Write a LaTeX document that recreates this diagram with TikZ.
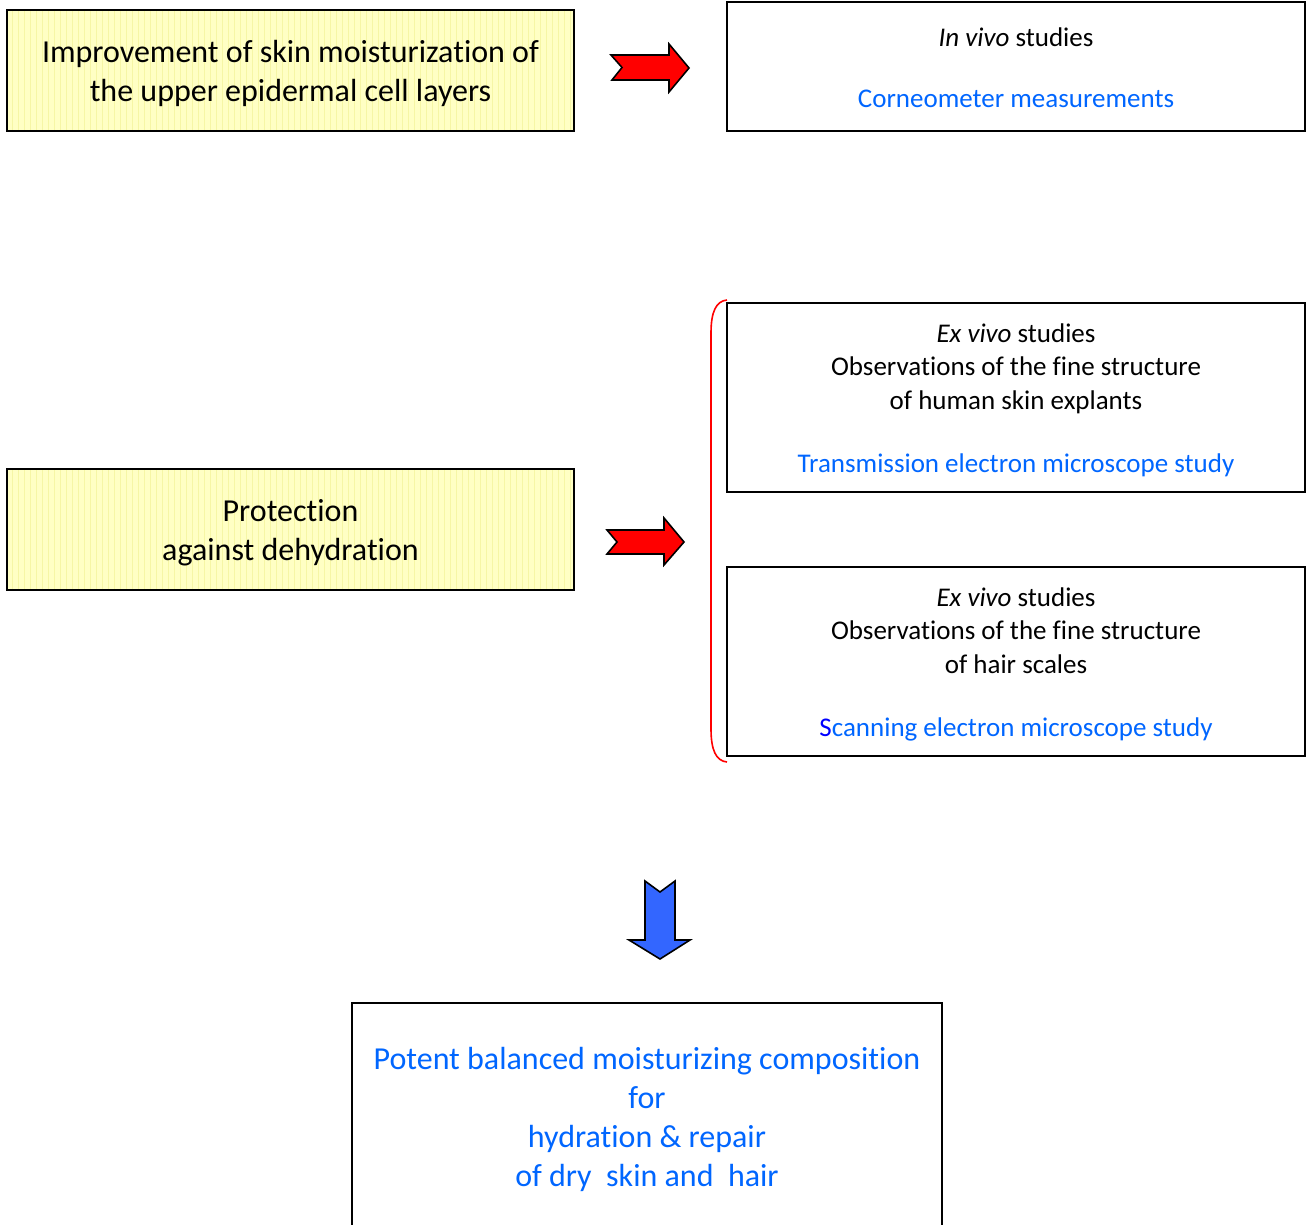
\documentclass[tikz,border=0pt]{standalone}
\usepackage{fontspec}
\setmainfont[Ligatures=NoCommon]{Carlito}
\definecolor{ybg}{RGB}{255,255,196}
\definecolor{ygrid}{RGB}{246,246,165}
\definecolor{tblue}{RGB}{0,102,255}
\definecolor{sblue}{RGB}{0,0,255}
\definecolor{ablue}{RGB}{51,102,255}
\begin{document}
\begin{tikzpicture}[x=1pt,y=-1pt,
  bigfont/.style={font=\fontsize{32}{39}\selectfont},
  smallfont/.style={font=\fontsize{27}{33.5}\selectfont},
  ybox/.style={draw=none,fill=ybg,minimum width=567,minimum height=121,inner sep=0,outer sep=0},
  wbox/.style={draw=black,line width=2,fill=white,minimum width=578,minimum height=189,inner sep=0,outer sep=0},
  btext/.style={align=center,bigfont,inner sep=0},
  stext/.style={align=center,smallfont,inner sep=0},
  blockarrow/.style={draw=black,line width=1.6,line join=miter}
]
\useasboundingbox[fill=white] (0,0) rectangle (1308,1225);

% yellow boxes
\node[ybox] (y1) at (290.5,70.5) {};
\node[ybox] (y2) at (290.5,529.5) {};
\foreach \b in {y1,y2}{
  \begin{scope}
    \clip (\b.south west) rectangle (\b.north east);
    \draw[ygrid,line width=0.35] (\b.south west) grid[step=6] (\b.north east);
  \end{scope}
  \draw[black,line width=2] (\b.south west) rectangle (\b.north east);
}
\node[btext] (t1) at ([yshift=-3]y1.center) {Improvement of skin moisturization of\\the upper epidermal cell layers};
\node[btext] (t2) at ([yshift=-3]y2.center) {Protection\\against dehydration};

% right boxes
\node[wbox,minimum height=129] (r1) at (1016,66.5) {};
\node[stext] (s1) at ([yshift=-1]r1.center) {\textit{In vivo} studies\\[27pt]\textcolor{tblue}{Corneometer measurements}};
\node[wbox] (r2) at (1016,397.5) {};
\node[stext] (s2) at ([yshift=-3]r2.center) {\textit{Ex vivo} studies\\Observations of the fine structure\\of human skin explants\\[30pt]\textcolor{tblue}{Transmission electron microscope study}};
\node[wbox] (r3) at (1016,661.5) {};
\node[stext] (s3) at ([yshift=-3]r3.center) {\textit{Ex vivo} studies\\Observations of the fine structure\\of hair scales\\[30pt]\textcolor{sblue}{S}\textcolor{tblue}{canning electron microscope study}};

% bottom box
\node[draw=black,line width=2,fill=white,minimum width=590,minimum height=229,inner sep=0,outer sep=0] (bot) at (647,1117.5) {};
\node[btext,text=tblue] (bt) at ([yshift=-2]bot.center) {Potent balanced moisturizing composition\\for\\hydration \& repair\\of dry\ \ skin and\ \ hair};

% red brace
\draw[red,line width=1.6] (r2.north west) ++(0,-3) coordinate (bt0)
  .. controls (716,301) and (711,312) .. (711,333) -- (711,729)
  .. controls (711,750) and (716,761) .. (727,762) coordinate (bb0);

% red block arrows
\draw[blockarrow,fill=red] (611,55) -- (622,67.5) -- (612,80) -- (669,80) -- (669,92) -- (689,68) -- (669,44) -- (669,55) -- cycle;
\draw[blockarrow,fill=red] (607,530) -- (617,542) -- (607,554) -- (664,554) -- (664,565) -- (684,542) -- (664,518) -- (664,530) -- cycle;

% blue block arrow
\draw[blockarrow,fill=ablue] (645,881) -- (660,892) -- (675,881) -- (675,940) -- (690,940) -- (660,959) -- (629,940) -- (645,940) -- cycle;
\end{tikzpicture}
\end{document}
